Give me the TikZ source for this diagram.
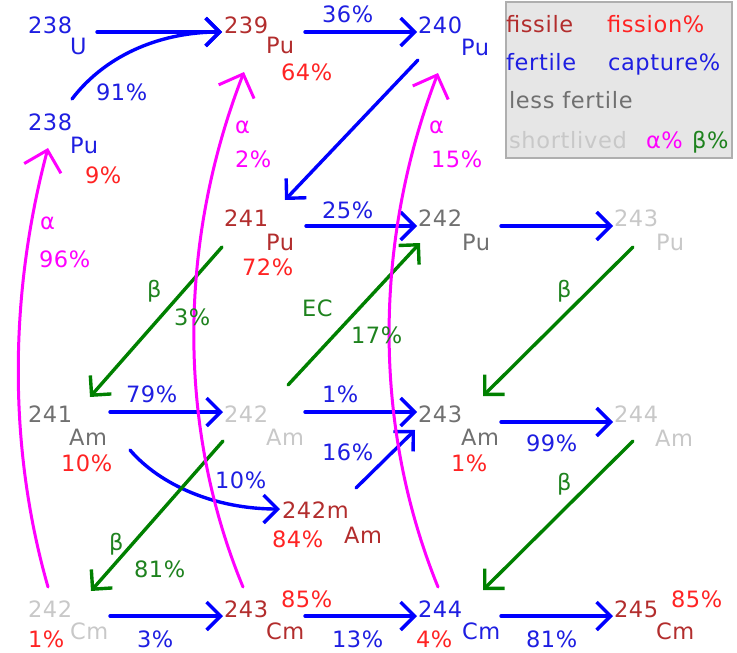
\documentclass[tikz,border=0pt]{standalone}
\usepackage{fontspec}
\setmainfont{DejaVu Sans}[LetterSpace=3]
\usetikzlibrary{arrows.meta,calc}
\definecolor{cFis}{RGB}{178,45,45}
\definecolor{cFisP}{RGB}{255,35,35}
\definecolor{cFer}{RGB}{30,30,225}
\definecolor{cBlue}{RGB}{0,0,255}
\definecolor{cLess}{RGB}{112,112,112}
\definecolor{cShort}{RGB}{200,200,200}
\definecolor{cAlpha}{RGB}{255,0,255}
\definecolor{cBeta}{RGB}{0,128,0}
\definecolor{cBetaT}{RGB}{30,130,30}
\definecolor{cLegBg}{RGB}{230,230,230}
\definecolor{cLegBd}{RGB}{175,175,175}
\begin{document}
\begin{tikzpicture}[x=1pt,y=-1pt,
  lbl/.style={inner sep=0pt, outer sep=0pt, anchor=base west, font=\fontsize{22.5}{26}\selectfont},
  capArrow/.style={draw=cBlue, line width=3.4pt, line cap=round, -{Straight Barb[length=14pt,width=28pt]}},
  betaArrow/.style={draw=cBeta, line width=3.4pt, line cap=round, -{Straight Barb[length=14pt,width=28pt]}},
  alphaArrow/.style={draw=cAlpha, line width=3pt, line cap=round, -{Straight Barb[length=19pt,width=38pt]}}
]
\useasboundingbox (0,0) rectangle (737,653);

% legend
\draw[draw=cLegBd, fill=cLegBg, line width=1.5pt] (506,2) rectangle (732,158);
\node[lbl,cFis] (legFissile) at (506,32) {fissile};
\node[lbl,cFisP] (legFission) at (607,32) {fission\%};
\node[lbl,cFer] (legFertile) at (506,70) {fertile};
\node[lbl,cFer] (legCapture) at (608,70) {capture\%};
\node[lbl,cLess] (legLess) at (509,108) {less fertile};
\node[lbl,cShort] (legShort) at (509,148) {shortlived};
\node[lbl,cAlpha] (legAlpha) at (646,148) {α\%};
\node[lbl,cBetaT] (legBeta) at (692,148) {β\%};

% nuclides
\node[lbl,cFer] (U238) at (28,33) {238};
\node[lbl,cFer] (U238s) at (70,54) {U};
\node[lbl,cFer] (Pu238) at (28,130) {238};
\node[lbl,cFer] (Pu238s) at (70,153) {Pu};
\node[lbl,cFisP] (Pu238f) at (85,183) {9\%};
\node[lbl,cFis] (Pu239) at (224,33) {239};
\node[lbl,cFis] (Pu239s) at (266,53) {Pu};
\node[lbl,cFisP] (Pu239f) at (281,80) {64\%};
\node[lbl,cFer] (Pu240) at (418,33) {240};
\node[lbl,cFer] (Pu240s) at (461,55) {Pu};
\node[lbl,cFis] (Pu241) at (224,226) {241};
\node[lbl,cFis] (Pu241s) at (266,250) {Pu};
\node[lbl,cFisP] (Pu241f) at (242,275) {72\%};
\node[lbl,cLess] (Pu242) at (418,226) {242};
\node[lbl,cLess] (Pu242s) at (462,250) {Pu};
\node[lbl,cShort] (Pu243) at (614,226) {243};
\node[lbl,cShort] (Pu243s) at (656,250) {Pu};
\node[lbl,cLess] (Am241) at (28,422) {241};
\node[lbl,cLess] (Am241s) at (69,445) {Am};
\node[lbl,cFisP] (Am241f) at (61,471) {10\%};
\node[lbl,cShort] (Am242) at (224,422) {242};
\node[lbl,cShort] (Am242s) at (266,445) {Am};
\node[lbl,cLess] (Am243) at (418,422) {243};
\node[lbl,cLess] (Am243s) at (461,445) {Am};
\node[lbl,cFisP] (Am243f) at (451,471) {1\%};
\node[lbl,cShort] (Am244) at (614,422) {244};
\node[lbl,cShort] (Am244s) at (655,446) {Am};
\node[lbl,cFis] (Am242m) at (282,518) {242m};
\node[lbl,cFis] (Am242ms) at (344,543) {Am};
\node[lbl,cFisP] (Am242mf) at (272,547) {84\%};
\node[lbl,cShort] (Cm242) at (28,617) {242};
\node[lbl,cShort] (Cm242s) at (70,639) {Cm};
\node[lbl,cFisP] (Cm242f) at (28,647) {1\%};
\node[lbl,cFis] (Cm243) at (224,617) {243};
\node[lbl,cFis] (Cm243s) at (266,639) {Cm};
\node[lbl,cFisP] (Cm243f) at (281,607) {85\%};
\node[lbl,cFer] (Cm244) at (418,617) {244};
\node[lbl,cFer] (Cm244s) at (462,639) {Cm};
\node[lbl,cFisP] (Cm244f) at (416,647) {4\%};
\node[lbl,cFis] (Cm245) at (614,617) {245};
\node[lbl,cFis] (Cm245s) at (656,639) {Cm};
\node[lbl,cFisP] (Cm245f) at (671,607) {85\%};

% capture arrows
\draw[capArrow] ($(U238.base west)+(69,-1)$) -- ($(Pu239.base west)+(-2,-1)$);
\draw[capArrow] ($(Pu238.base west)+(44,-31)$) .. controls (108,52) and (165,32) .. ($(Pu239.base west)+(-2,-1)$);
\draw[capArrow] ($(Pu239.base west)+(81,-1)$) -- ($(Pu240.base west)+(-1,-1)$);
\draw[capArrow] ($(Pu240.base west)+(0,27)$) -- ($(Pu241.base west)+(61,-26)$);
\draw[capArrow] ($(Pu241.base west)+(82,0)$) -- ($(Pu242.base west)+(-1,0)$);
\draw[capArrow] ($(Pu242.base west)+(83,0)$) -- ($(Pu243.base west)+(-1,0)$);
\draw[capArrow] ($(Am241.base west)+(82,-10)$) -- ($(Am242.base west)+(-1,-10)$);
\draw[capArrow] ($(Am242.base west)+(81,-10)$) -- ($(Am243.base west)+(-1,-10)$);
\draw[capArrow] ($(Am243.base west)+(83,0)$) -- ($(Am244.base west)+(-1,0)$);
\draw[capArrow] ($(Am241.base west)+(102,28)$) .. controls (160,485) and (215,509) .. ($(Am242m.base west)+(-2,-9)$);
\draw[capArrow] ($(Am242m.base west)+(74,-30)$) -- ($(Am243.base west)+(-3,8)$);
\draw[capArrow] ($(Cm242.base west)+(82,-1)$) -- ($(Cm243.base west)+(-1,-1)$);
\draw[capArrow] ($(Cm243.base west)+(81,-1)$) -- ($(Cm244.base west)+(-1,-1)$);
\draw[capArrow] ($(Cm244.base west)+(83,-1)$) -- ($(Cm245.base west)+(-1,-1)$);

% beta / EC arrows
\draw[betaArrow] ($(Pu241.base west)+(-2,21)$) -- ($(Am241.base west)+(62,-25)$);
\draw[betaArrow] ($(Pu243.base west)+(19,21)$) -- ($(Am243.base west)+(65,-26)$);
\draw[betaArrow] ($(Am242.base west)+(64,-37)$) -- ($(Pu242.base west)+(2,17)$);
\draw[betaArrow] ($(Am242.base west)+(-1,19)$) -- ($(Cm242.base west)+(63,-26)$);
\draw[betaArrow] ($(Am244.base west)+(19,19)$) -- ($(Cm244.base west)+(65,-27)$);

% alpha arrows
\draw[alphaArrow] ($(Cm242.base west)+(20,-30)$) .. controls (7,444) and (10,291) .. ($(Pu238.base west)+(20,18)$);
\draw[alphaArrow] ($(Cm243.base west)+(19,-30)$) .. controls (175,422) and (180,237) .. ($(Pu239.base west)+(20,39)$);
\draw[alphaArrow] ($(Cm244.base west)+(20,-30)$) .. controls (371,422) and (375,238) .. ($(Pu240.base west)+(20,40)$);

% capture labels
\node[lbl,cFer] (c91) at (96,100) {91\%};
\node[lbl,cFer] (c36) at (322,23) {36\%};
\node[lbl,cFer] (c25) at (322,218) {25\%};
\node[lbl,cFer] (c79) at (126,402) {79\%};
\node[lbl,cFer] (c1) at (322,402) {1\%};
\node[lbl,cFer] (c99) at (526,451) {99\%};
\node[lbl,cFer] (c10) at (215,488) {10\%};
\node[lbl,cFer] (c16) at (322,460) {16\%};
\node[lbl,cFer] (c3) at (137,647) {3\%};
\node[lbl,cFer] (c13) at (332,647) {13\%};
\node[lbl,cFer] (c81) at (526,647) {81\%};

% beta labels
\node[lbl,cBetaT] (b1) at (147,297) {β};
\node[lbl,cBetaT] (b1p) at (174,325) {3\%};
\node[lbl,cBetaT] (ec) at (302,316) {EC};
\node[lbl,cBetaT] (ecp) at (351,343) {17\%};
\node[lbl,cBetaT] (b2) at (557,297) {β};
\node[lbl,cBetaT] (b3) at (109,550) {β};
\node[lbl,cBetaT] (b3p) at (134,577) {81\%};
\node[lbl,cBetaT] (b4) at (557,490) {β};

% alpha labels
\node[lbl,cAlpha] (a1) at (40,229) {α};
\node[lbl,cAlpha] (a1p) at (39,267) {96\%};
\node[lbl,cAlpha] (a2) at (235,133) {α};
\node[lbl,cAlpha] (a2p) at (235,167) {2\%};
\node[lbl,cAlpha] (a3) at (429,133) {α};
\node[lbl,cAlpha] (a3p) at (431,167) {15\%};
\end{tikzpicture}
\end{document}
